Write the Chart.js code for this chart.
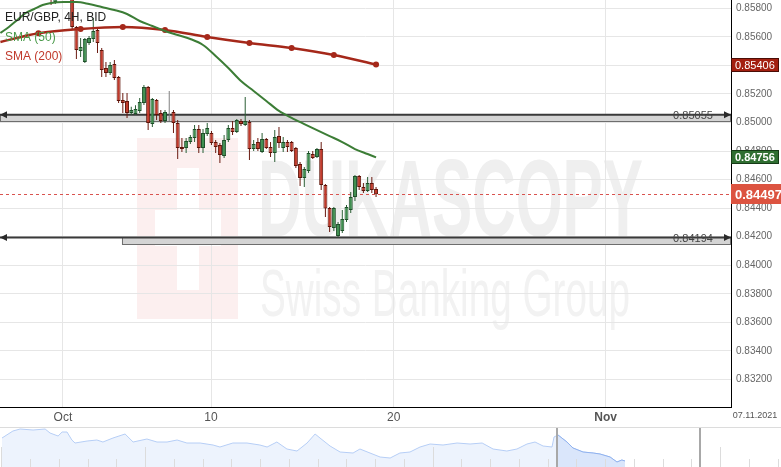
<!DOCTYPE html>
<html>
<head>
<meta charset="utf-8">
<script src="https://cdn.jsdelivr.net/npm/chart.js@4.4.1/dist/chart.umd.min.js"></script>
<style>
  html, body { margin: 0; padding: 0; background: #fff; }
  #wrap { width: 781px; height: 467px; }
  canvas { display: block; }
</style>
</head>
<body>
<div id="wrap">
  <canvas id="chart" width="781" height="427"></canvas>
  <canvas id="nav" width="781" height="40"></canvas>
</div>
<script>
// EUR/GBP 4H candles, index 0 = first candle on screen
const candleOpen = [0.8602, 0.85844, 0.8595, 0.8600, 0.8597, 0.8601, 0.85669, 0.85501, 0.85424, 0.85557,
  0.85585, 0.85648, 0.85508, 0.85382, 0.85347, 0.85410, 0.85319, 0.85158, 0.85151, 0.85067,
  0.85060, 0.85081, 0.85137, 0.85249, 0.84990, 0.85158, 0.85067, 0.85011, 0.85032, 0.85074,
  0.84997, 0.84828, 0.84821, 0.84863, 0.84891, 0.84954, 0.84821, 0.84919, 0.84926, 0.84863,
  0.84842, 0.84765, 0.84877, 0.84961, 0.84933, 0.85011, 0.84983, 0.85004, 0.84814, 0.84863,
  0.84793, 0.84884, 0.84828, 0.84786, 0.84905, 0.84821, 0.84863, 0.84863, 0.84821, 0.84709,
  0.84611, 0.84660, 0.84779, 0.84758, 0.84814, 0.84562, 0.84401, 0.84261, 0.84205, 0.84240,
  0.84317, 0.84387, 0.84478, 0.84625, 0.84548, 0.84520, 0.84576, 0.84534];
const candleHigh = [0.8608, 0.8598, 0.8604, 0.8606, 0.8605, 0.8606, 0.85676, 0.85592, 0.85592, 0.85606,
  0.85732, 0.85662, 0.85522, 0.85424, 0.85424, 0.85438, 0.85326, 0.85207, 0.85207, 0.85110,
  0.85120, 0.85172, 0.85263, 0.85256, 0.85172, 0.85165, 0.85088, 0.85088, 0.85221, 0.85088,
  0.85018, 0.84891, 0.84891, 0.84912, 0.84983, 0.84983, 0.84954, 0.84997, 0.84940, 0.84877,
  0.84856, 0.84912, 0.84983, 0.85011, 0.85025, 0.85025, 0.85179, 0.85018, 0.84877, 0.84891,
  0.84926, 0.84891, 0.84863, 0.84947, 0.84968, 0.84898, 0.84877, 0.84870, 0.84828, 0.84723,
  0.84688, 0.84800, 0.84800, 0.84821, 0.84863, 0.84569, 0.84408, 0.84408, 0.84303, 0.84387,
  0.84422, 0.84513, 0.84632, 0.84632, 0.84576, 0.84618, 0.84618, 0.84548];
const candleLow = [0.85823, 0.8583, 0.8590, 0.8592, 0.8593, 0.85655, 0.85445, 0.85459, 0.85417, 0.85543,
  0.85564, 0.85487, 0.85319, 0.85319, 0.85333, 0.85298, 0.85137, 0.85067, 0.85032, 0.85053,
  0.85053, 0.85067, 0.85123, 0.84947, 0.84968, 0.85018, 0.84997, 0.84997, 0.85011, 0.84926,
  0.84744, 0.84793, 0.84786, 0.84849, 0.84863, 0.84786, 0.84786, 0.84905, 0.84842, 0.84786,
  0.84716, 0.84751, 0.84863, 0.84912, 0.84926, 0.84976, 0.84976, 0.84737, 0.84800, 0.84800,
  0.84786, 0.84814, 0.84758, 0.84723, 0.84821, 0.84793, 0.84793, 0.84793, 0.84681, 0.84555,
  0.84548, 0.84646, 0.84744, 0.84751, 0.84527, 0.84338, 0.84233, 0.84240, 0.84194, 0.84226,
  0.84303, 0.84366, 0.84450, 0.84527, 0.84506, 0.84513, 0.84506, 0.84478];
const candleClose = [0.8590, 0.8595, 0.8600, 0.8597, 0.8601, 0.85669, 0.85508, 0.85529, 0.85585, 0.85592,
  0.85641, 0.85557, 0.85368, 0.85347, 0.85403, 0.85312, 0.85151, 0.85137, 0.85067, 0.85088,
  0.85095, 0.85144, 0.85249, 0.84997, 0.85165, 0.85053, 0.85011, 0.85074, 0.85032, 0.84997,
  0.84821, 0.84814, 0.84870, 0.84898, 0.84954, 0.84821, 0.84926, 0.84961, 0.84856, 0.84828,
  0.84772, 0.84877, 0.84961, 0.84933, 0.85018, 0.84990, 0.85011, 0.84814, 0.84849, 0.84814,
  0.84884, 0.84821, 0.84786, 0.84898, 0.84856, 0.84863, 0.84828, 0.84800, 0.84695, 0.84611,
  0.84674, 0.84786, 0.84751, 0.84814, 0.84562, 0.84397, 0.84268, 0.84401, 0.84289, 0.84324,
  0.84408, 0.84478, 0.84625, 0.84548, 0.84520, 0.84576, 0.84527, 0.84497];

// moving averages (candle index -> value)
const sma50Idx = [-12, -10, -8, -6, -4, -2, 0, 3, 6, 9, 12, 15, 18, 21, 24, 27, 30, 33, 36, 39, 42, 45, 48, 51, 54, 57, 60, 63, 66, 69, 72, 75, 77];
const sma50 = [0.85627, 0.85669, 0.85718, 0.85767, 0.85795, 0.85823, 0.85837, 0.85844, 0.85844, 0.85830,
  0.85809, 0.85788, 0.85760, 0.85711, 0.85676, 0.85641, 0.85613, 0.85585, 0.85543, 0.85466,
  0.85382, 0.85291, 0.85221, 0.85151, 0.85081, 0.85032, 0.84989, 0.84947, 0.84905, 0.84863,
  0.84814, 0.84779, 0.84756];
const sma200Idx = [-12, -3, 7, 17, 27, 37, 47, 57, 67, 77];
const sma200 = [0.85564, 0.85625, 0.85655, 0.85669, 0.85648, 0.85599, 0.85557, 0.85522, 0.85473, 0.85406];

const lastPrice = 0.84497;
const levelValues = [0.85055, 0.84194];
const levelZoneLow = [0.85003, 0.84145];
const levelStartIdx = [-12.1, 16.8];

const xTickIdx = [2.8, 37.9, 81.2, 131.4];
const xTickLabels = ['Oct', '10', '20', 'Nov'];
const dateLabel = '07.11.2021';
const yTicks = [0.832, 0.834, 0.836, 0.838, 0.840, 0.842, 0.844, 0.846, 0.848, 0.850, 0.852, 0.854, 0.856, 0.858];
const yMin = 0.83007, yMax = 0.85858;
const xMin = -12.1, xMax = 161.1;

// navigator (weeks, relative level)
const navWeeks = [0.07, 0.45, 0.70, 1.15, 1.57, 1.74, 2.02, 2.16, 2.33, 2.50, 2.61, 3.03, 3.37, 3.58, 3.93,
  4.35, 4.63, 5.11, 5.46, 5.81, 6.16, 6.50, 6.96, 7.41, 7.65, 8.10, 8.59, 9.04, 9.29, 9.63,
  9.98, 10.33, 10.68, 10.96, 11.13, 11.48, 11.83, 12.28, 12.52, 12.87, 13.22, 13.57, 13.91, 14.26, 14.61,
  14.96, 15.41, 15.90, 16.35, 16.77, 17.15, 17.63, 17.98, 18.33, 18.61, 18.89, 19.20, 19.27, 19.41, 19.72,
  19.93, 20.28, 20.63, 20.87, 21.22, 21.46, 21.63, 21.74];
const navLevel = [29, 36, 38, 37, 38, 34, 31, 35, 35, 27, 24, 26, 27, 25, 29,
  33, 25, 28, 25, 25, 27, 24, 24, 22, 20, 24, 24, 22, 20, 25,
  18, 16, 24, 33, 29, 21, 15, 14, 18, 14, 10, 9, 14, 15, 20,
  23, 22, 24, 23, 24, 18, 16, 18, 23, 25, 21, 20, 30, 32, 25,
  19, 15, 14, 13, 10, 5, 7, 6];
const navWindow = [19.37, 24.35];
const navLongTicks = [0, 5, 15, 25];

const FONT = 'Arial, "Liberation Sans", sans-serif';
Chart.defaults.font.family = FONT;

const UP = { fill: '#3f8f50', edge: '#1e4f29', wick: '#2b5e35' };
const DOWN = { fill: '#c23a2b', edge: '#5e1409', wick: '#6a1a10' };
const FLAT = { fill: '#808080', edge: '#777', wick: '#808080' };

const idx = candleOpen.map((_, i) => i);
const side = idx.map(i => candleClose[i] > candleOpen[i] ? UP : (candleClose[i] < candleOpen[i] ? DOWN : FLAT));
const bodies = idx.map(i => {
    const o = candleOpen[i], c = candleClose[i];
    return { x: i, y: o === c ? [o - 0.000012, o + 0.000012] : [o, c] };
});
const wicks = idx.map(i => ({ x: i, y: [candleLow[i], candleHigh[i]] }));

function drawArrow(ctx, x, y, dir) {
    ctx.beginPath();
    ctx.moveTo(x, y);
    ctx.lineTo(x - dir * 7, y - 3.5);
    ctx.lineTo(x - dir * 7, y + 3.5);
    ctx.closePath();
    ctx.fill();
}

function noPadding(s) {
    s.paddingTop = 0;
    s.paddingBottom = 0;
    s.paddingLeft = 0;
    s.paddingRight = 0;
}

const overlay = {
    id: 'overlay',
    beforeDraw(chart) {
        const ctx = chart.ctx;
        ctx.save();
        // watermark logo
        ctx.fillStyle = '#fcefef';
        ctx.fillRect(137, 138, 101, 181);
        ctx.fillStyle = '#ffffff';
        ctx.fillRect(177, 168, 22, 122);
        ctx.fillRect(155, 210, 66, 36);
        // watermark text
        ctx.fillStyle = '#efefef';
        ctx.font = 'bold 110px ' + FONT;
        let w = ctx.measureText('DUKASCOPY').width;
        ctx.translate(258, 236);
        ctx.scale(385 / w, 1);
        ctx.fillText('DUKASCOPY', 0, 0);
        ctx.setTransform(1, 0, 0, 1, 0, 0);
        ctx.fillStyle = '#f2f2f2';
        ctx.font = '66px ' + FONT;
        w = ctx.measureText('Swiss Banking Group').width;
        ctx.translate(260, 316);
        ctx.scale(370 / w, 1);
        ctx.fillText('Swiss Banking Group', 0, 0);
        ctx.restore();
    },
    beforeDatasetsDraw(chart) {
        const ctx = chart.ctx, a = chart.chartArea;
        const xs = chart.scales.x, ys = chart.scales.y;
        ctx.save();
        levelValues.forEach((lv, i) => {
            const yl = ys.getPixelForValue(lv);
            const yz = ys.getPixelForValue(levelZoneLow[i]);
            const x0 = Math.max(a.left, xs.getPixelForValue(levelStartIdx[i]));
            ctx.fillStyle = '#d4d4d4';
            ctx.fillRect(x0, yl, a.right - x0, yz - yl);
            ctx.strokeStyle = '#6e6e6e';
            ctx.lineWidth = 1;
            ctx.strokeRect(x0 + 0.5, Math.round(yl) - 0.5, a.right - x0 - 1, Math.round(yz - yl));
            ctx.strokeStyle = '#3a3a3a';
            ctx.lineWidth = 2;
            ctx.beginPath();
            ctx.moveTo(a.left, yl);
            ctx.lineTo(a.right, yl);
            ctx.stroke();
            ctx.fillStyle = '#2a2a2a';
            drawArrow(ctx, a.left, yl, -1);
            drawArrow(ctx, a.right, yl, 1);
            ctx.font = '11px ' + FONT;
            ctx.fillStyle = '#444';
            ctx.textAlign = 'center';
            ctx.textBaseline = 'middle';
            ctx.fillText(lv.toFixed(5), a.right - 38, yl + 1);
        });
        // current price
        const yp = ys.getPixelForValue(lastPrice);
        ctx.strokeStyle = '#d9534f';
        ctx.lineWidth = 1;
        ctx.setLineDash([3, 3]);
        ctx.beginPath();
        ctx.moveTo(a.left, Math.round(yp) + 0.5);
        ctx.lineTo(a.right, Math.round(yp) + 0.5);
        ctx.stroke();
        ctx.restore();
    },
    afterDraw(chart) {
        const ctx = chart.ctx, a = chart.chartArea, ys = chart.scales.y;
        ctx.save();
        // legend text
        ctx.textAlign = 'left';
        ctx.textBaseline = 'alphabetic';
        ctx.font = '12px ' + FONT;
        ctx.fillStyle = '#222';
        ctx.fillText('EUR/GBP, 4H, BID', 5, 21);
        ctx.fillStyle = '#4a9a4a';
        ctx.fillText('SMA (50)', 5, 41);
        ctx.fillStyle = '#c0392b';
        ctx.fillText('SMA (200)', 5, 60);

        const badge = (value, h, bg, edge, font, x1) => {
            const y = Math.round(ys.getPixelForValue(value));
            ctx.fillStyle = bg;
            ctx.fillRect(a.right, y - h / 2, x1 - a.right, h);
            if (edge) {
                ctx.strokeStyle = edge;
                ctx.lineWidth = 1;
                ctx.strokeRect(a.right + 0.5, y - h / 2 + 0.5, x1 - a.right - 1, h - 1);
            }
            ctx.fillStyle = '#fff';
            ctx.font = font;
            ctx.textBaseline = 'middle';
            ctx.fillText(value.toFixed(5), a.right + 4, y + 1);
        };
        badge(sma200[sma200.length - 1], 14, '#a31f10', '#4a0d06', '11px ' + FONT, 779);
        badge(sma50[sma50.length - 1], 14, '#2f6e31', '#163b17', 'bold 11px ' + FONT, 779);
        badge(lastPrice, 20, '#dc5340', null, 'bold 13px ' + FONT, 781);

        ctx.font = '9px ' + FONT;
        ctx.fillStyle = '#555';
        ctx.textAlign = 'center';
        ctx.textBaseline = 'middle';
        ctx.fillText(dateLabel, 755, 416);
        ctx.restore();
    }
};

new Chart(document.getElementById('chart'), {
    type: 'bar',
    data: {
        datasets: [
            {
                type: 'line', label: 'SMA (50)',
                data: sma50Idx.map((x, i) => ({ x, y: sma50[i] })),
                borderColor: '#3c7d36', borderWidth: 2, pointRadius: 0,
                cubicInterpolationMode: 'monotone', order: -2
            },
            {
                type: 'line', label: 'SMA (200)',
                data: sma200Idx.map((x, i) => ({ x, y: sma200[i] })),
                borderColor: '#a5281a', borderWidth: 2.5,
                pointRadius: ctx => ctx.dataIndex === 0 ? 0 : 3,
                pointBackgroundColor: '#a5281a', pointBorderWidth: 0,
                cubicInterpolationMode: 'monotone', order: -1
            },
            {
                label: 'body', data: bodies,
                backgroundColor: side.map(s => s.fill), borderColor: side.map(s => s.edge),
                borderWidth: 1, borderSkipped: false, barThickness: 4,
                grouped: false, inflateAmount: 0, order: 0
            },
            {
                label: 'wick', data: wicks,
                backgroundColor: side.map(s => s.wick), borderWidth: 0,
                barThickness: 1, grouped: false, inflateAmount: 0, order: 1
            }
        ]
    },
    options: {
        responsive: false,
        animation: false,
        events: [],
        layout: { padding: 0, autoPadding: false },
        plugins: { legend: { display: false }, tooltip: { enabled: false } },
        scales: {
            x: {
                type: 'linear', min: xMin, max: xMax, offset: false,
                grid: { color: '#e6e6e6', drawTicks: false, offset: false },
                border: { display: true, color: '#000', width: 1 },
                ticks: {
                    padding: 3, color: '#555', autoSkip: false, maxRotation: 0,
                    font: ctx => ({ size: 12, weight: ctx.tick && ctx.tick.label === 'Nov' ? 'bold' : 'normal' }),
                    callback: v => { const k = xTickIdx.indexOf(v); return k >= 0 ? xTickLabels[k] : ''; }
                },
                afterBuildTicks: s => { s.ticks = xTickIdx.map(v => ({ value: v })); },
                afterFit: s => { s.height = 20; noPadding(s); }
            },
            y: {
                type: 'linear', position: 'right', min: yMin, max: yMax,
                grid: { color: '#e6e6e6', drawTicks: false },
                border: { display: true, color: '#000', width: 1 },
                ticks: { padding: 5, color: '#666', font: { size: 10 }, crossAlign: 'near', callback: v => v.toFixed(5) },
                afterBuildTicks: s => { s.ticks = yTicks.map(v => ({ value: v })); },
                afterFit: s => { s.width = 50; noPadding(s); }
            }
        }
    },
    plugins: [overlay]
});

// navigator strip
const navPts = navWeeks.map((x, i) => ({ x, y: navLevel[i] }));
const navFrame = {
    id: 'navFrame',
    afterDraw(chart) {
        const ctx = chart.ctx, xs = chart.scales.x, h = chart.height;
        ctx.save();
        ctx.strokeStyle = '#dcdcdc';
        ctx.lineWidth = 1;
        ctx.beginPath();
        ctx.moveTo(0, 0.5);
        ctx.lineTo(chart.width, 0.5);
        for (let k = 0; k < 28; k++) {
            const x = Math.round(xs.getPixelForValue(k + 0.05)) + 0.5;
            ctx.moveTo(x, navLongTicks.includes(k) ? 20 : 32);
            ctx.lineTo(x, h);
        }
        ctx.stroke();
        ctx.strokeStyle = '#a8a8a8';
        ctx.lineWidth = 2;
        ctx.beginPath();
        navWindow.forEach(w => {
            const x = Math.round(xs.getPixelForValue(w));
            ctx.moveTo(x, 1);
            ctx.lineTo(x, h);
        });
        ctx.stroke();
        ctx.restore();
    }
};

new Chart(document.getElementById('nav'), {
    type: 'line',
    data: {
        datasets: [
            { data: navPts, borderColor: '#b6cef6', borderWidth: 1, backgroundColor: '#edf3fd', fill: 'origin', pointRadius: 0 },
            { data: navPts.filter(p => p.x >= navWindow[0]), borderColor: '#8fb1ee', borderWidth: 1, backgroundColor: '#dae6fb', fill: 'origin', pointRadius: 0, order: -1 }
        ]
    },
    options: {
        responsive: false,
        animation: false,
        events: [],
        layout: { padding: 0, autoPadding: false },
        plugins: { legend: { display: false }, tooltip: { enabled: false } },
        scales: {
            x: { type: 'linear', display: false, min: 0, max: 27.165 },
            y: { display: false, min: 0, max: 40 }
        }
    },
    plugins: [navFrame]
});
</script>
</body>
</html>
